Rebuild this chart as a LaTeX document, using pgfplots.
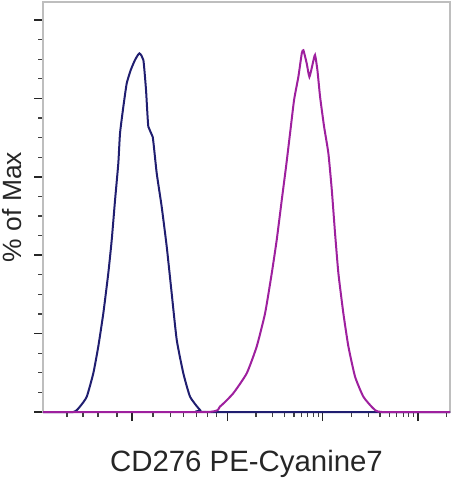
\documentclass[border=0pt]{standalone}
\usepackage{fontspec}
\setmainfont{Liberation Sans}
\usepackage{pgfplots}
\pgfplotsset{compat=1.18}

\definecolor{isotype}{RGB}{32,30,112}
\definecolor{stained}{RGB}{158,32,158}
\definecolor{frame}{RGB}{190,190,190}

\begin{document}
\begin{tikzpicture}
\begin{axis}[
    name=ax,
    scale only axis,
    width=407bp, height=410bp,
    xmin=1.066, xmax=5.336,
    ymin=0, ymax=104.6,
    axis line style={frame, line width=1.2bp},
    clip=false,
    xtick={2,3,4,5},
    minor xtick={1.318,1.486,1.643,1.843,
        2.22,2.40,2.54,2.68,2.79,2.89,
        3.301,3.477,3.602,3.699,3.778,3.845,3.903,3.954,
        4.301,4.477,4.602,4.699,4.778,4.845,4.903,4.954,
        5.301},
    ytick={0,20,...,100},
    minor ytick={5,10,15,25,30,35,45,50,55,65,70,75,85,90,95},
    xticklabels={}, yticklabels={},
    xtick pos=bottom, ytick pos=left,
    tick align=outside,
    major tick length=9bp, minor tick length=5bp,
    every tick/.style={black!85, line width=1.6bp},
    every minor tick/.style={black!75, line width=1.2bp},
    xlabel={CD276 PE-Cyanine7},
    ylabel={\% of Max},
    x label style={font=\fontsize{29.5}{33}\selectfont, text=black!85,
        at={(axis description cs:0.5,-0.1463)}, anchor=base},
    y label style={font=\fontsize{26.5}{30}\selectfont, text=black!85,
        at={(axis description cs:-0.0516,0.5)}, anchor=base},
]

% isotype control
\addplot[isotype, line width=2bp, smooth, tension=0.3] coordinates {
    (1.066,0) (1.384,0) (1.454,1.4) (1.525,3.9) (1.594,9.9) (1.646,16.7)
    (1.699,25.2) (1.751,35.4) (1.787,43.9) (1.822,54.1) (1.856,63.4)
    (1.874,71.1) (1.909,77.9) (1.944,83.8) (1.986,87.2) (2.031,89.8)
    (2.077,91.5) (2.119,89.8) (2.147,82.1) (2.171,72.8) (2.217,70.2)
    (2.259,60.9) (2.311,52.4) (2.364,42.2) (2.416,30.3) (2.469,18.4)
    (2.538,9.9) (2.609,3.9) (2.714,0.5) (2.784,0) (5.336,0)
};

% CD276 stained
\addplot[stained, line width=2bp, smooth, tension=0.3] coordinates {
    (1.066,0) (2.784,0) (2.923,1.4) (3.063,4.8) (3.204,9.9) (3.308,16.7)
    (3.396,25.2) (3.466,35.4) (3.518,43.9) (3.571,54.1) (3.616,62.6)
    (3.658,71.1) (3.700,79.6) (3.745,85.5) (3.781,91.5) (3.798,92.3)
    (3.833,88.9) (3.861,85.5) (3.896,88.9) (3.920,91.1) (3.945,87.2)
    (3.973,80.4) (4.015,72.8) (4.060,66.0) (4.096,56.6) (4.130,45.6)
    (4.165,35.4) (4.217,25.2) (4.270,16.7) (4.340,9.0) (4.427,3.9)
    (4.532,0.9) (4.620,0) (5.336,0)
};

\end{axis}
\pgfresetboundingbox
\path[use as bounding box] ([shift={(-43bp,-68bp)}]ax.south west)
    rectangle ([shift={(7bp,2bp)}]ax.north east);
\end{tikzpicture}
\end{document}
